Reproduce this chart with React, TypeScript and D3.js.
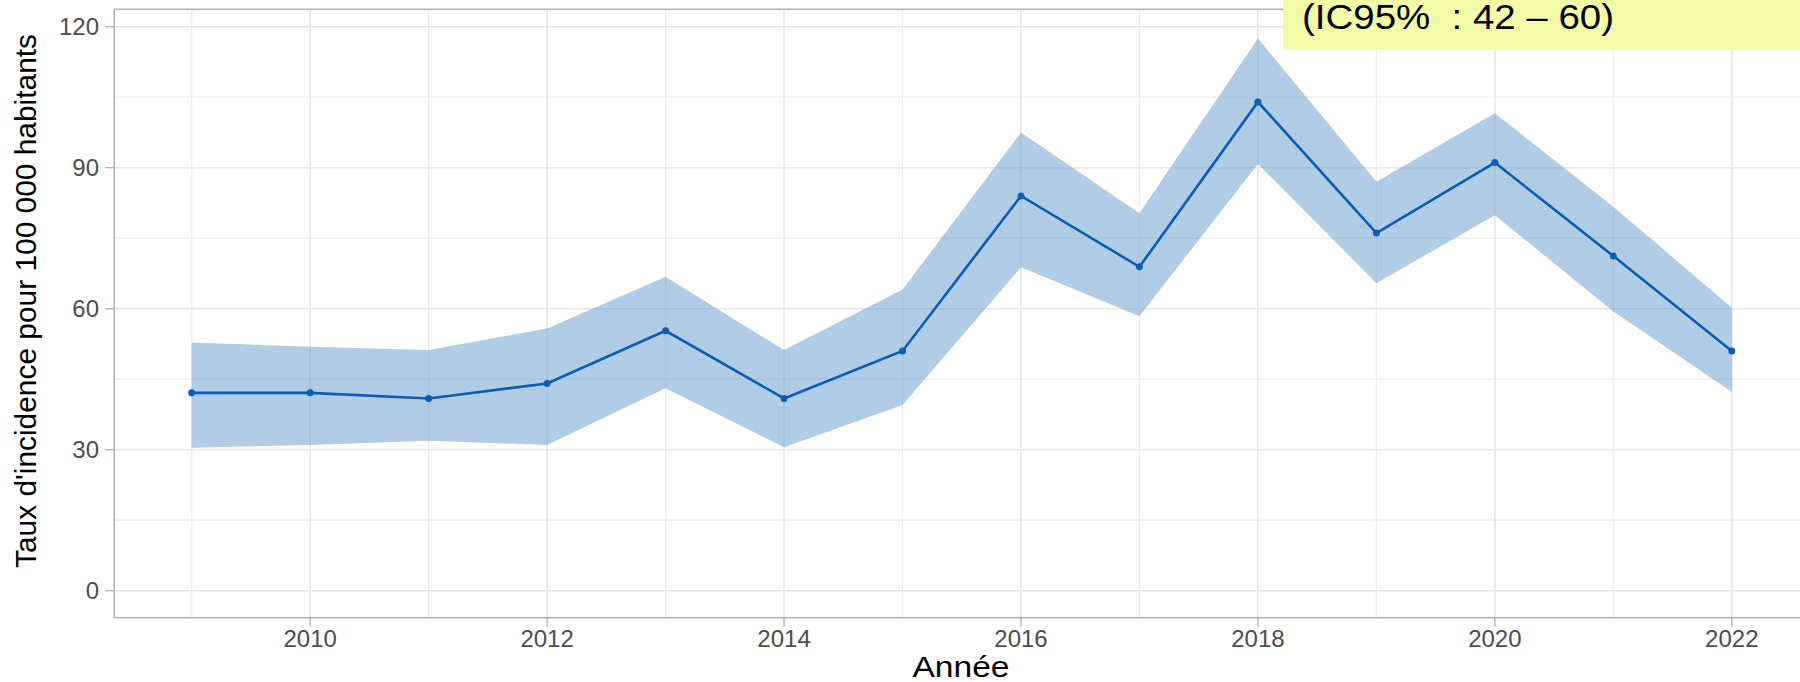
import React from "react";
import * as d3 from "d3";

const years = [2009, 2010, 2011, 2012, 2013, 2014, 2015, 2016, 2017, 2018, 2019, 2020, 2021, 2022];
const rate = [42.1, 42.1, 40.9, 44.1, 55.3, 40.9, 51.0, 84.0, 68.9, 104.0, 76.1, 91.1, 71.2, 51.0];
const upper = [52.8, 51.9, 51.2, 55.8, 66.8, 51.2, 64.1, 97.5, 80.3, 117.5, 87.0, 101.6, 81.7, 60.2];
const lower = [30.4, 31.0, 31.9, 31.0, 43.1, 30.5, 39.5, 68.8, 58.4, 90.8, 65.4, 79.9, 59.4, 42.3];

const yTicks = [0, 30, 60, 90, 120];
const yMinor = [15, 45, 75, 105];
const xTicks = [2010, 2012, 2014, 2016, 2018, 2020, 2022];
const xMinor = [2009, 2011, 2013, 2015, 2017, 2019, 2021];

const xTitle = "Année";
const yTitle = "Taux d'incidence pour 100 000 habitants";
const annotation = "(IC95%  : 42 – 60)";

const W = 1800;
const H = 682;
const P = { left: 114.3, top: 9.3, right: 1808, bottom: 617.7 };

export default function App() {
  const x = d3.scaleLinear().domain([2009, 2022]).range([191.7, 1731.8]);
  const y = d3.scaleLinear().domain([0, 120]).range([590.7, 26.7]);

  const rows = years.map((yr, i) => ({ yr, v: rate[i], lo: lower[i], hi: upper[i] }));
  const area = d3
    .area<(typeof rows)[number]>()
    .x((d) => x(d.yr))
    .y0((d) => y(d.lo))
    .y1((d) => y(d.hi));
  const line = d3
    .line<(typeof rows)[number]>()
    .x((d) => x(d.yr))
    .y((d) => y(d.v));

  const font = "'Liberation Sans', Arial, sans-serif";

  return (
    <svg
      width={W}
      height={H}
      style={{ position: "absolute", left: 0, top: 0, background: "#fff" }}
      fontFamily={font}
    >
      <defs>
        <clipPath id="panel">
          <rect x={P.left} y={P.top} width={P.right - P.left} height={P.bottom - P.top} />
        </clipPath>
      </defs>
      <rect x={0} y={0} width={W} height={H} fill="#fff" />
      <g clipPath="url(#panel)">
        {yMinor.map((t) => (
          <line key={"ym" + t} x1={P.left} x2={P.right} y1={y(t)} y2={y(t)} stroke="#ececec" strokeWidth={1.2} />
        ))}
        {xMinor.map((t) => (
          <line key={"xm" + t} x1={x(t)} x2={x(t)} y1={P.top} y2={P.bottom} stroke="#ececec" strokeWidth={1.2} />
        ))}
        {yTicks.map((t) => (
          <line key={"yg" + t} x1={P.left} x2={P.right} y1={y(t)} y2={y(t)} stroke="#e6e6e6" strokeWidth={1.6} />
        ))}
        {xTicks.map((t) => (
          <line key={"xg" + t} x1={x(t)} x2={x(t)} y1={P.top} y2={P.bottom} stroke="#e6e6e6" strokeWidth={1.6} />
        ))}
        <path d={area(rows) ?? ""} fill="rgb(100,155,205)" fillOpacity={0.5} />
        <path d={line(rows) ?? ""} fill="none" stroke="#0d5cb4" strokeWidth={2.6} />
        {rows.map((d) => (
          <circle key={d.yr} cx={x(d.yr)} cy={y(d.v)} r={3.5} fill="#0d5cb4" />
        ))}
      </g>
      <rect
        x={P.left}
        y={P.top}
        width={P.right - P.left}
        height={P.bottom - P.top}
        fill="none"
        stroke="#b3b3b3"
        strokeWidth={1.6}
      />
      {yTicks.map((t) => (
        <g key={"yt" + t}>
          <line x1={P.left - 9} x2={P.left} y1={y(t)} y2={y(t)} stroke="#b3b3b3" strokeWidth={1.4} />
          <text x={99} y={y(t)} dy="0.36em" textAnchor="end" fontSize={24} fill="#4d4d4d">
            {t}
          </text>
        </g>
      ))}
      {xTicks.map((t) => (
        <g key={"xt" + t}>
          <line x1={x(t)} x2={x(t)} y1={P.bottom} y2={P.bottom + 9} stroke="#b3b3b3" strokeWidth={1.4} />
          <text x={x(t)} y={647} textAnchor="middle" fontSize={24} fill="#4d4d4d">
            {t}
          </text>
        </g>
      ))}
      <text x={961} y={677} textAnchor="middle" fontSize={30} fill="#000" textLength={97} lengthAdjust="spacingAndGlyphs">
        {xTitle}
      </text>
      <text
        transform={`translate(36, ${301}) rotate(-90)`}
        textAnchor="middle"
        fontSize={29}
        fill="#000"
        textLength={534}
        lengthAdjust="spacingAndGlyphs"
      >
        {yTitle}
      </text>
      <rect x={1283} y={0} width={W - 1283} height={49.4} fill="#f4fba8" />
      <text
        x={1302}
        y={29}
        fontSize={35}
        fill="#000"
        textLength={312}
        lengthAdjust="spacingAndGlyphs"
        style={{ whiteSpace: "pre" }}
      >
        {annotation}
      </text>
    </svg>
  );
}
